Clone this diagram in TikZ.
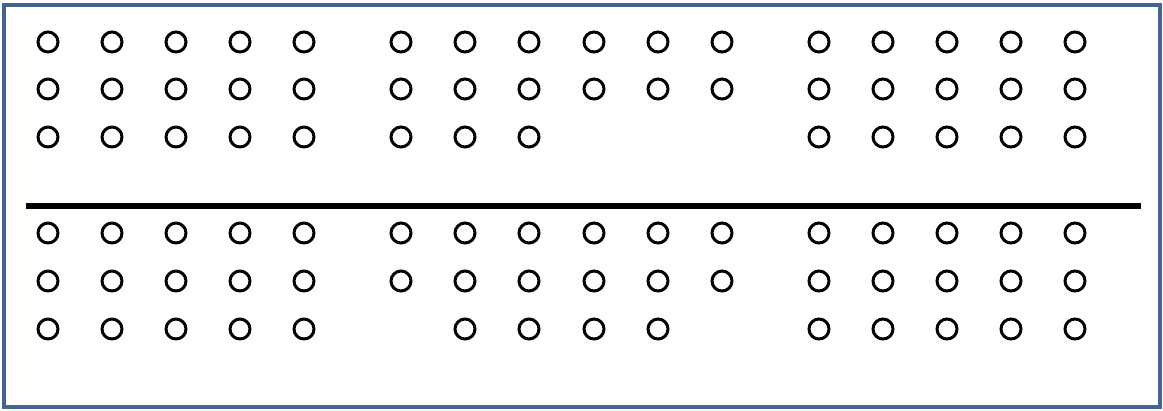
\documentclass[tikz,border=0pt]{standalone}
\usepackage{tikz}
\usetikzlibrary{positioning}
\definecolor{frame-blue}{RGB}{66, 100, 146}

\begin{document}
\begin{tikzpicture}[
            x=0.02cm, y=-0.02cm,
            dot/.style={circle, draw, line width=1.7pt, minimum size=0.4cm, inner sep=0pt},
            frame/.style={draw=frame-blue, line width=2.3pt},
            divider/.style={line width=3pt},
        ]
            \useasboundingbox (0,0) rectangle (1163,410);
            \draw[frame] (4,5) rectangle (1160,407);

            % full rows, above and below the divider
            \foreach \y/\r in {42/a, 89/b, 233/d, 281/e}
                \foreach \x [count=\i] in {48,112,176,240,304,401,465,529,594,658,722,819,883,947,1011,1075}
                    \node[dot] (\r\i) at (\x,\y) {};
            % short rows
            \foreach \x [count=\i] in {48,112,176,240,304,401,465,529,819,883,947,1011,1075}
                \node[dot] (c\i) at (\x,137) {};
            \foreach \x [count=\i] in {48,112,176,240,304,465,529,594,658,819,883,947,1011,1075}
                \node[dot] (f\i) at (\x,329) {};

            % divider line
            \coordinate (divL) at (26,206);
            \coordinate (divR) at (1141,206);
            \draw[divider] (divL) -- (divR);
        \end{tikzpicture}
\end{document}
